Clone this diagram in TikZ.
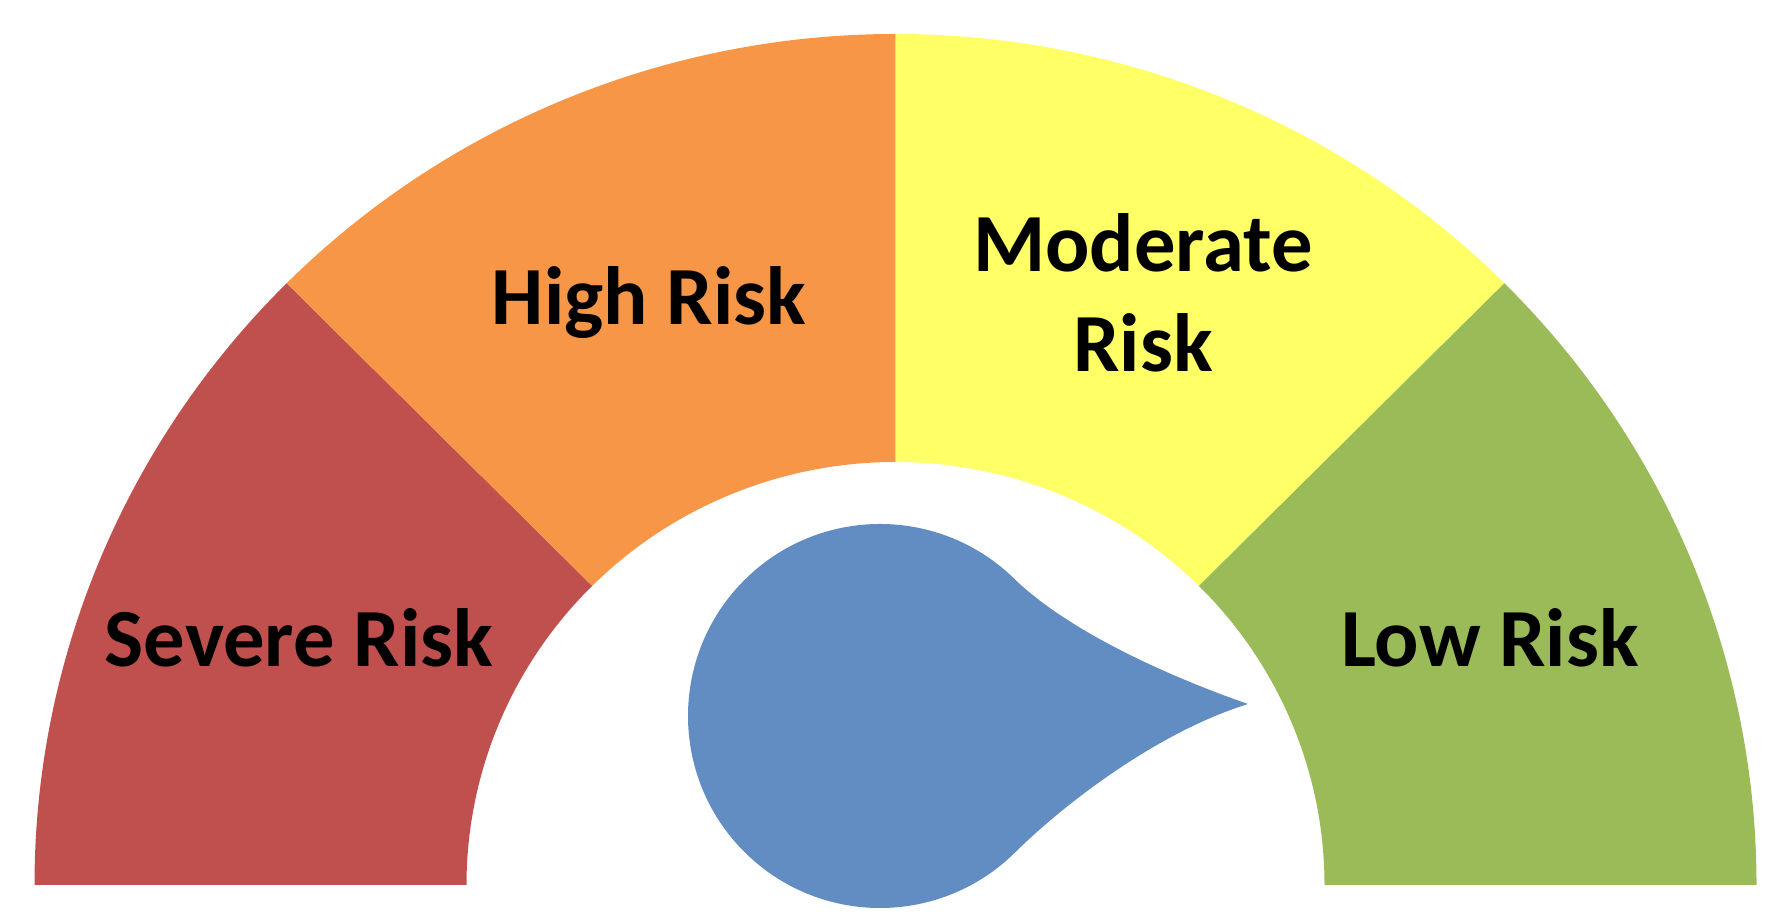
\documentclass[tikz,border=0pt]{standalone}
\usepackage{fontspec}
\setmainfont{Carlito}
\usepackage{tikz}

\definecolor{severecol}{HTML}{C0504D}
\definecolor{highcol}{HTML}{F79646}
\definecolor{moderatecol}{HTML}{FFFF66}
\definecolor{lowcol}{HTML}{9BBB59}
\definecolor{needlecol}{HTML}{628DC3}

\begin{document}
\begin{tikzpicture}[x=0.01cm, y=0.01cm,
		risktext/.style={font=\fontsize{23.5}{28.5}\selectfont\bfseries, anchor=base, align=center, inner sep=0pt}]
	\useasboundingbox (0,0) rectangle (1767,922);
	\coordinate (gc) at (895.5,37);
	\coordinate (nc) at (880,206);
	\coordinate (tip) at (1248,218);

	% Gauge sectors
	\foreach \col [count=\i] in {severecol,highcol,moderatecol,lowcol} {
		\pgfmathsetmacro\sa{225-45*\i}
		\pgfmathsetmacro\ea{180-45*\i}
		\fill[\col, shift={(gc)}] (\sa:861 and 851) arc[start angle=\sa, end angle=\ea, x radius=861, y radius=851]
			-- (\ea:429 and 423) arc[start angle=\ea, end angle=\sa, x radius=429, y radius=423] -- cycle;
	}

	% Needle
	\fill[needlecol] (tip) .. controls (1170,245) and (1070,290) .. ([shift={(45:192)}]nc)
		arc[start angle=45, end angle=315, radius=192]
		.. controls (1058,112) and (1152,188) .. (tip) -- cycle;

	% Labels
	\node (severe) [risktext] at (299,255) {Severe Risk};
	\node (high) [risktext] at (649,597) {High Risk};
	\node (moderate) [risktext] at (1143,550) {Moderate\\Risk};
	\node (low) [risktext] at (1490,255) {Low Risk};
\end{tikzpicture}
\end{document}
